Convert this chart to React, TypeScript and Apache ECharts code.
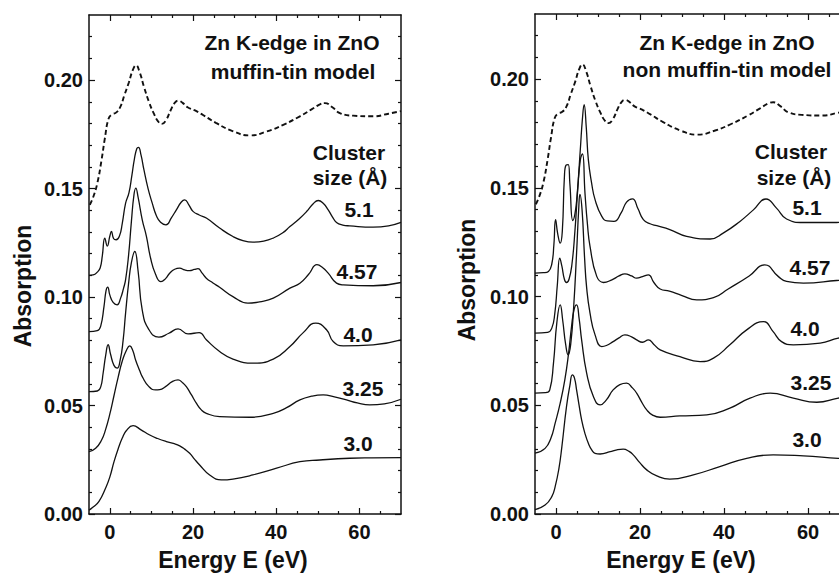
import React, { useEffect, useRef } from "react";
import * as echarts from "echarts";

type P = [number, number];

// Experimental spectrum (dashed), same in both panels
const expCurve: P[] = [
  [-4.8, 0.1425], [-4.0, 0.146], [-3.0, 0.1525], [-2.0, 0.163], [-1.2, 0.173],
  [-0.3, 0.1822], [0.5, 0.1842], [1.5, 0.185], [2.5, 0.1875], [3.5, 0.193],
  [4.6, 0.199], [5.5, 0.2045], [6.3, 0.2068], [7.2, 0.2035], [8.2, 0.197],
  [9.4, 0.19], [10.6, 0.1845], [11.6, 0.181], [12.5, 0.1798], [13.5, 0.1815],
  [14.6, 0.186], [15.6, 0.1895], [16.5, 0.1905], [17.5, 0.1895], [18.7, 0.1875],
  [20.5, 0.186], [22.5, 0.1838], [25.5, 0.1803], [29.5, 0.1765], [33.7, 0.1745],
  [37.7, 0.1763], [41.7, 0.1794], [45.7, 0.1833], [48.5, 0.1865], [50.5, 0.1888],
  [51.7, 0.1894], [53.5, 0.1875], [55.3, 0.1848], [58.5, 0.1836], [63.3, 0.1833],
  [67, 0.1845], [70, 0.1857],
];

// Left panel: muffin-tin model
const mt51: P[] = [
  [-5, 0.110], [-4, 0.1102], [-3, 0.1115], [-2.3, 0.1135], [-1.8, 0.119], [-1.2, 0.1272],
  [-0.6, 0.1235], [0.0, 0.128], [0.4, 0.1302], [0.9, 0.127], [1.5, 0.1264], [2.3, 0.128],
  [3.0, 0.134], [3.8, 0.1433], [4.6, 0.148], [5.3, 0.156], [5.9, 0.1635], [6.5, 0.1685],
  [6.9, 0.169], [7.5, 0.1655], [8.2, 0.1587], [9.2, 0.150], [10.2, 0.1433], [11.2, 0.1375],
  [12.2, 0.1345], [13.5, 0.1333], [14.8, 0.1365], [16, 0.1402], [17.2, 0.1438], [18.0, 0.1448],
  [19.0, 0.1425], [20.0, 0.1395], [21.5, 0.1378], [23.2, 0.1364], [26.4, 0.1318], [29.6, 0.1279],
  [32, 0.126], [34.4, 0.1253], [37, 0.1258], [39.3, 0.1272], [41.5, 0.1295], [43.3, 0.1325],
  [45.5, 0.136], [47.3, 0.1394], [48.9, 0.143], [50.1, 0.1445], [51.3, 0.1432], [52.5, 0.1402],
  [53.5, 0.137], [54.5, 0.1344], [56, 0.1332], [57.7, 0.1328], [63.3, 0.1322], [67, 0.1328],
  [70, 0.1344],
];
const mt457: P[] = [
  [-5, 0.0841], [-3, 0.0845], [-2.2, 0.0865], [-1.4, 0.0956], [-0.9, 0.103], [-0.5, 0.1046],
  [0, 0.101], [0.8, 0.0975], [1.75, 0.0964], [2.6, 0.0995], [3.3, 0.104], [3.8, 0.108],
  [4.5, 0.119], [5.2, 0.135], [5.8, 0.147], [6.25, 0.1502], [6.8, 0.146], [7.8, 0.1356],
  [8.8, 0.128], [9.8, 0.118], [11, 0.1105], [12.3, 0.1071], [13.4, 0.1085], [14.4, 0.111],
  [15.6, 0.1128], [16.8, 0.1133], [18, 0.1125], [19.2, 0.1122], [20.3, 0.1127], [21.2, 0.1131],
  [22.2, 0.111], [23.2, 0.1087], [24.8, 0.1065], [26.4, 0.1045], [29.6, 0.1002], [33.2, 0.0972],
  [36, 0.0978], [39.3, 0.0995], [43.3, 0.1041], [45.7, 0.1064], [47.8, 0.1105], [49.8, 0.1149],
  [51.2, 0.1135], [52.5, 0.111], [54.5, 0.1064], [56.1, 0.1056], [63.3, 0.1052], [70, 0.1067],
];
const mt40: P[] = [
  [-5, 0.0564], [-3, 0.0567], [-2.2, 0.0585], [-1.6, 0.065], [-1.0, 0.073], [-0.4, 0.078],
  [0.2, 0.0735], [1.0, 0.0685], [1.75, 0.0672], [2.5, 0.071], [3.2, 0.08], [3.8, 0.0927],
  [4.5, 0.106], [5.2, 0.116], [6.0, 0.121], [6.8, 0.112], [7.8, 0.094], [9.4, 0.085],
  [11.8, 0.0815], [14.2, 0.0833], [16.4, 0.0853], [18.8, 0.083], [21.5, 0.0836], [23.2, 0.0803],
  [26.4, 0.0749], [29.6, 0.0714], [34.4, 0.0695], [39.3, 0.0714], [43.3, 0.0772], [46.5, 0.0836],
  [49.5, 0.088], [52.1, 0.0849], [53.7, 0.0795], [56.1, 0.0775], [63.3, 0.078], [70, 0.0803],
];
const mt325: P[] = [
  [-5, 0.0287], [-3.4, 0.0303], [-2, 0.034], [-1, 0.039], [0, 0.046], [1, 0.0545],
  [2, 0.063], [3, 0.0705], [4, 0.0755], [4.8, 0.0775], [5.5, 0.0755], [6.2, 0.071],
  [7.2, 0.066], [7.8, 0.0633], [9.4, 0.0587], [11, 0.0572], [12, 0.0573], [13.4, 0.0587],
  [15, 0.061], [16.4, 0.0618], [17.5, 0.0605], [18.4, 0.0587], [19.6, 0.055], [20.8, 0.0511],
  [22, 0.048], [23.2, 0.0464], [26.4, 0.0449], [33.7, 0.0446], [39.3, 0.0464], [42.5, 0.049],
  [45.7, 0.0526], [48.5, 0.0543], [51.3, 0.0549], [54, 0.054], [56.9, 0.0526], [59.5, 0.0512],
  [62.5, 0.0503], [66, 0.0508], [70, 0.0529],
];
const mt30: P[] = [
  [-5, 0.0018], [-4, 0.0032], [-2.6, 0.0058], [-1, 0.012], [0, 0.017], [1, 0.024],
  [2, 0.030], [3, 0.035], [4, 0.0385], [5.6, 0.0407], [7.5, 0.0388], [9.6, 0.0364],
  [11.5, 0.0348], [13.6, 0.0334], [15.5, 0.0324], [16.8, 0.0314], [18, 0.0299], [19.2, 0.028],
  [20.4, 0.0252], [21.6, 0.0226], [24, 0.018], [26.8, 0.0157], [29.6, 0.0161], [34.4, 0.018],
  [40.1, 0.0211], [45.7, 0.0241], [50.5, 0.0249], [57.7, 0.0257], [63, 0.0259], [70, 0.026],
];

// Right panel: non muffin-tin model
const nmt51: P[] = [
  [-5, 0.1108], [-3, 0.111], [-1.8, 0.1116], [-1.0, 0.115], [-0.5, 0.124], [-0.1, 0.1354],
  [0.4, 0.129], [1.0, 0.1246], [1.5, 0.13], [2.0, 0.155], [2.4, 0.1605], [2.9, 0.1607],
  [3.3, 0.152], [4.0, 0.135], [4.5, 0.138], [5.0, 0.146], [5.8, 0.168], [6.3, 0.182],
  [6.7, 0.1883], [7.2, 0.178], [7.7, 0.163], [8.5, 0.152], [9.3, 0.1446], [10.9, 0.1369],
  [12.2, 0.1348], [13.8, 0.1346], [15.5, 0.1385], [16.8, 0.1435], [18.2, 0.145], [19.5, 0.1405],
  [20.8, 0.1354], [22.4, 0.1335], [24, 0.1326], [27.1, 0.1308], [31.1, 0.1277], [36.7, 0.1265],
  [39.8, 0.1292], [43.8, 0.1346], [47, 0.1399], [50, 0.1449], [52.5, 0.1407], [54.9, 0.1357],
  [58.9, 0.1341], [66.8, 0.1341], [70, 0.1345],
];
const nmt457: P[] = [
  [-5, 0.0832], [-2, 0.0835], [-1, 0.0855], [-0.3, 0.092], [0.3, 0.105], [0.9, 0.1177],
  [1.4, 0.114], [2.0, 0.108], [2.5, 0.1065], [3.1, 0.108], [3.8, 0.115], [4.5, 0.13],
  [5.2, 0.150], [5.8, 0.163], [6.3, 0.1657], [6.9, 0.1476], [7.5, 0.133], [8.1, 0.1231],
  [9.7, 0.1093], [11.3, 0.1065], [13.3, 0.1077], [15, 0.1095], [16.4, 0.1105], [18, 0.1095],
  [19.2, 0.1085], [20.6, 0.1092], [22, 0.11], [23.3, 0.1065], [24.8, 0.1035], [27, 0.1025],
  [30, 0.1005], [33.5, 0.0985], [37.5, 0.0995], [41, 0.1035], [46, 0.1095], [49.7, 0.1146],
  [52.9, 0.1093], [54.9, 0.107], [58.9, 0.1062], [66.8, 0.1074], [70, 0.108],
];
const nmt40: P[] = [
  [-5, 0.0556], [-2.5, 0.0558], [-1.5, 0.057], [-0.6, 0.0694], [0.2, 0.088], [1.0, 0.0962],
  [1.6, 0.089], [2.3, 0.078], [2.9, 0.0732], [3.5, 0.078], [4.2, 0.095], [4.9, 0.12],
  [5.4, 0.14], [5.7, 0.147], [6.2, 0.14], [6.8, 0.118], [7.3, 0.104], [8.1, 0.0924],
  [9.3, 0.0824], [10.9, 0.077], [12, 0.0775], [13.6, 0.0793], [15, 0.081], [16.4, 0.0824],
  [18, 0.0815], [19.2, 0.0801], [20.6, 0.079], [22, 0.0801], [23.3, 0.078], [24.8, 0.0755],
  [29.5, 0.0724], [34.3, 0.0701], [37.5, 0.0717], [41.4, 0.0778], [45.4, 0.0847], [49.4, 0.0885],
  [51.7, 0.0839], [53.7, 0.0793], [56.5, 0.0778], [62.9, 0.0786], [67.2, 0.0809], [70, 0.0815],
];
const nmt325: P[] = [
  [-5, 0.028], [-2.6, 0.0302], [-1.2, 0.035], [-0.2, 0.0418], [1, 0.051], [2.1, 0.0617],
  [3, 0.074], [3.7, 0.0862], [4.3, 0.094], [4.9, 0.0962], [5.5, 0.09], [6.1, 0.0801],
  [7.3, 0.0648], [8.9, 0.054], [10.5, 0.0502], [12, 0.0525], [13.6, 0.0571], [15.2, 0.0595],
  [16.8, 0.0602], [18.2, 0.058], [19.2, 0.0556], [20.4, 0.0515], [21.6, 0.0479], [23, 0.0455],
  [24.8, 0.0445], [29.5, 0.0451], [35.9, 0.0456], [41.4, 0.0487], [46.2, 0.0533], [51, 0.0556],
  [56.5, 0.0533], [62.1, 0.0514], [67.2, 0.0533], [70, 0.054],
];
const nmt30: P[] = [
  [-5, 0.002], [-2.6, 0.0041], [-1, 0.008], [-0.2, 0.0126], [0.7, 0.021], [1.4, 0.031],
  [2.5, 0.0494], [3.3, 0.059], [3.9, 0.064], [4.4, 0.0625], [4.9, 0.0571], [5.5, 0.05],
  [6.1, 0.0433], [6.9, 0.037], [7.7, 0.0325], [8.5, 0.0295], [9.3, 0.0279], [10.5, 0.0276],
  [12.9, 0.0287], [14.5, 0.0295], [16, 0.0298], [17.4, 0.0288], [18.4, 0.0272], [20, 0.0235],
  [21.6, 0.0203], [24, 0.0175], [27.1, 0.016], [32.7, 0.018], [39, 0.0218], [45.4, 0.0256],
  [51.7, 0.0272], [58.9, 0.0267], [67.2, 0.0256], [70, 0.0254],
];

const clusterSizes = ["5.1", "4.57", "4.0", "3.25", "3.0"];
const xMajor = [0, 20, 40, 60];
const xMinor = [5, 10, 15, 25, 30, 35, 45, 50, 55, 65];
const yMajor = [0, 0.05, 0.1, 0.15, 0.2];
const yMinor = [0.01, 0.02, 0.03, 0.04, 0.06, 0.07, 0.08, 0.09, 0.11, 0.12, 0.13, 0.14, 0.16, 0.17, 0.18, 0.19, 0.21, 0.22];

const FONT = "'Liberation Sans', Arial, Helvetica, sans-serif";
const INK = "#111";

export default function App() {
  const ref = useRef<HTMLDivElement>(null);
  useEffect(() => {
    if (!ref.current) return;
    const chart = echarts.init(ref.current, null, { renderer: "svg" });

    const grids = [
      { left: 89, top: 15, width: 312, height: 499 },
      { left: 535, top: 14, width: 315, height: 500 },
    ];

    const line = (show: boolean) => ({ show, onZero: false, lineStyle: { color: INK, width: 1.5 } });
    const tick = (len: number, vals: number[]) => ({
      show: true, inside: true, length: len, customValues: vals, lineStyle: { color: INK, width: 1.2 },
    });

    const xAxes: any[] = [];
    const yAxes: any[] = [];
    grids.forEach((_, g) => {
      const xb = { type: "value", gridIndex: g, min: -5, max: 70, splitLine: { show: false } };
      xAxes.push({
        ...xb, position: "bottom", axisLine: line(true), axisTick: tick(6, xMajor),
        axisLabel: { show: true, customValues: xMajor, fontSize: 20, fontWeight: "bold", fontFamily: FONT, color: INK, margin: 8 },
      });
      xAxes.push({ ...xb, position: "bottom", axisLine: line(false), axisTick: tick(3, xMinor), axisLabel: { show: false } });
      xAxes.push({ ...xb, position: "top", axisLine: line(true), axisTick: tick(6, xMajor), axisLabel: { show: false } });
      xAxes.push({ ...xb, position: "top", axisLine: line(false), axisTick: tick(3, xMinor), axisLabel: { show: false } });

      const yb = { type: "value", gridIndex: g, min: 0, max: 0.23, splitLine: { show: false } };
      yAxes.push({
        ...yb, position: "left", axisLine: line(true), axisTick: tick(6, yMajor),
        axisLabel: {
          show: true, customValues: yMajor, fontSize: 20, fontWeight: "bold", fontFamily: FONT, color: INK, margin: 6,
          formatter: (v: number) => v.toFixed(2),
        },
      });
      yAxes.push({ ...yb, position: "left", axisLine: line(false), axisTick: tick(3, yMinor), axisLabel: { show: false } });
      yAxes.push({ ...yb, position: "right", axisLine: line(true), axisTick: tick(6, yMajor), axisLabel: { show: false } });
      yAxes.push({ ...yb, position: "right", axisLine: line(false), axisTick: tick(3, yMinor), axisLabel: { show: false } });
    });

    const solid = (name: string, data: P[], g: number) => ({
      type: "line", name, data, xAxisIndex: g * 4, yAxisIndex: g * 4,
      showSymbol: false, symbol: "none", smooth: 0.5,
      lineStyle: { color: INK, width: 1.3 },
    });
    const dashed = (data: P[], g: number) => ({
      type: "line", name: "exp", data, xAxisIndex: g * 4, yAxisIndex: g * 4,
      showSymbol: false, symbol: "none", smooth: 0.5,
      lineStyle: { color: INK, width: 1.9, type: [5, 3] },
    });

    const leftCurves = [mt51, mt457, mt40, mt325, mt30];
    const rightCurves = [nmt51, nmt457, nmt40, nmt325, nmt30];
    const series: any[] = [dashed(expCurve, 0), dashed(expCurve, 1)];
    leftCurves.forEach((c, i) => series.push(solid(clusterSizes[i], c, 0)));
    rightCurves.forEach((c, i) => series.push(solid(clusterSizes[i], c, 1)));

    const txt = (text: string, x: number, y: number, size = 21, extra: any = {}) => ({
      type: "text", x, y, ...extra,
      style: { text, fill: INK, font: `bold ${size}px ${FONT}`, align: "center", verticalAlign: "middle" },
    });
    const leftLabelPos = [[359, 209], [357, 271], [358, 334], [363, 388], [358, 443]];
    const rightLabelPos = [[807, 207], [810, 267], [805, 328], [811, 382], [807, 439]];
    const graphic: any[] = [
      txt("Zn K-edge in ZnO", 292, 42),
      txt("muffin-tin model", 293, 71),
      txt("Zn K-edge in ZnO", 727, 42),
      txt("non muffin-tin model", 727, 69),
      txt("Cluster", 349, 152),
      txt("size (Å)", 350, 177),
      txt("Cluster", 791, 151),
      txt("size (Å)", 794, 177),
      txt("Absorption", 23, 286, 23, { rotation: Math.PI / 2 }),
      txt("Absorption", 467, 280, 23, { rotation: Math.PI / 2 }),
      txt("Energy E (eV)", 233, 560, 23),
      txt("Energy E (eV)", 681, 560, 23),
    ];
    clusterSizes.forEach((s, i) => {
      graphic.push(txt(s, leftLabelPos[i][0], leftLabelPos[i][1]));
      graphic.push(txt(s, rightLabelPos[i][0], rightLabelPos[i][1]));
    });

    chart.setOption({
      animation: false,
      backgroundColor: "#fff",
      grid: grids.map((g) => ({ ...g, containLabel: false, outerBoundsMode: "none" })),
      xAxis: xAxes,
      yAxis: yAxes,
      series,
      graphic,
    });
    return () => chart.dispose();
  }, []);

  return (
    <div
      ref={ref}
      style={{ position: "fixed", left: 0, top: 0, width: 839, height: 574, background: "#fff" }}
    />
  );
}
